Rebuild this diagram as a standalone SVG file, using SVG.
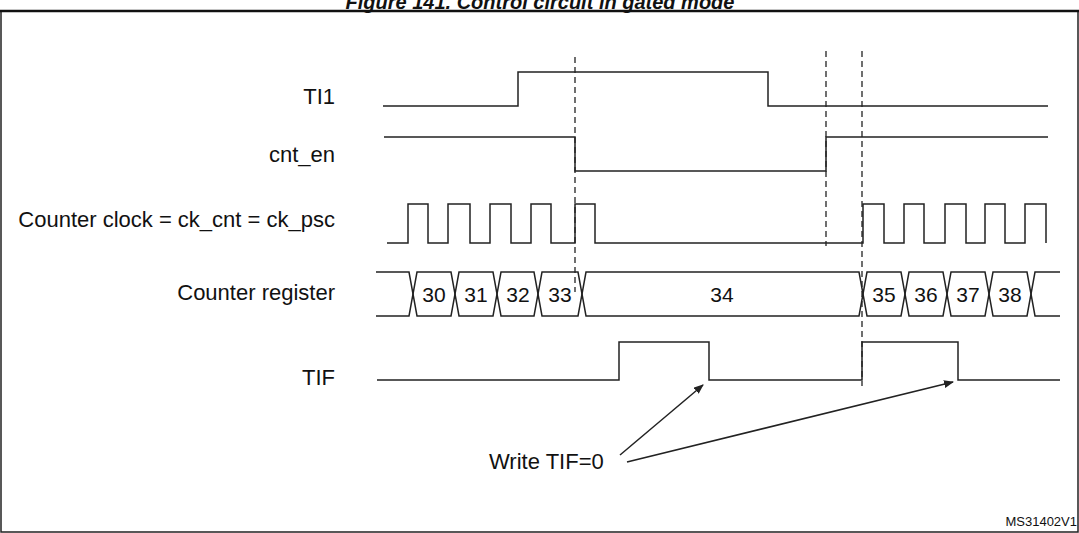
<svg xmlns="http://www.w3.org/2000/svg" width="1079" height="533" viewBox="0 0 1079 533">
<defs>
<style>
.w{fill:none;stroke:#222;stroke-width:1.5}
.d{fill:none;stroke:#222;stroke-width:1.3;stroke-dasharray:6,4}
.l{font-family:"Liberation Sans",Arial,sans-serif;font-size:22px;fill:#111}
.n{font-family:"Liberation Sans",Arial,sans-serif;font-size:21px;fill:#111;text-anchor:middle}
</style>
<marker id="ah" markerWidth="10" markerHeight="8" refX="9" refY="4" orient="auto" markerUnits="userSpaceOnUse"><path d="M0,0 L10,4 L0,8 z" fill="#222"/></marker>
</defs>
<rect width="1079" height="533" fill="#fff"/>
<text x="540" y="9" text-anchor="middle" font-family="Liberation Sans,Arial,sans-serif" font-size="20" font-weight="bold" font-style="italic" fill="#111">Figure 141. Control circuit in gated mode</text>
<path d="M1,532 V11 H1078 V532 Z" fill="none" stroke="#222" stroke-width="1.5"/>
<line x1="0" y1="11" x2="1079" y2="11" stroke="#111" stroke-width="2.5"/>
<g id="labels" class="l" text-anchor="end">
<text x="335" y="104">TI1</text>
<text x="335" y="162">cnt_en</text>
<text x="335" y="227">Counter clock = ck_cnt = ck_psc</text>
<text x="335" y="300">Counter register</text>
<text x="335" y="385">TIF</text>
</g>
<g id="connectors">
<line class="d" x1="575" y1="57" x2="575" y2="292"/>
<line class="d" x1="826" y1="51" x2="826" y2="246"/>
<line class="d" x1="862" y1="51" x2="862" y2="386"/>
<line class="w" x1="620" y1="455" x2="703" y2="385" marker-end="url(#ah)"/>
<line class="w" x1="627" y1="462" x2="953" y2="382" marker-end="url(#ah)"/>
</g>
<g id="ti1"><path class="w" d="M383,106 H518 V72 H768 V106 H1048"/></g>
<g id="cnt_en"><path class="w" d="M384,137 H575 V171 H826 V137 H1048"/></g>
<g id="clock"><path class="w" d="M387,243 H408 V204 H428 V243 H448 V204 H470 V243 H490 V204 H511 V243 H531 V204 H551 V243 H575 V204 H595 V243 H863 V204 H884 V243 H904 V204 H924 V243 H945 V204 H966 V243 H985 V204 H1005 V243 H1025 V204 H1046 V243"/></g>
<g id="register">
<path class="w" d="M376,272 H409 L417,316 H451 L459,272 H493 L501,316 H534 L542,272 H578 L586,316 H859 L867,272 H901 L909,316 H943 L951,272 H985 L993,316 H1027 L1035,272 H1060"/>
<path class="w" d="M376,316 H409 L417,272 H451 L459,316 H493 L501,272 H534 L542,316 H578 L586,272 H859 L867,316 H901 L909,272 H943 L951,316 H985 L993,272 H1027 L1035,316 H1060"/>
<g class="n">
<text x="434" y="302">30</text><text x="476" y="302">31</text><text x="518" y="302">32</text><text x="560" y="302">33</text>
<text x="722" y="302">34</text>
<text x="884" y="302">35</text><text x="926" y="302">36</text><text x="968" y="302">37</text><text x="1010" y="302">38</text>
</g>
</g>
<g id="note"><text class="l" x="489" y="469">Write TIF=0</text></g>
<g id="tif"><path class="w" d="M377,380 H619 V342 H709 V380 H862 V342 H958 V380 H1060"/></g>
<text x="1077" y="526" text-anchor="end" font-family="Liberation Sans,Arial,sans-serif" font-size="13" fill="#111">MS31402V1</text>
</svg>
